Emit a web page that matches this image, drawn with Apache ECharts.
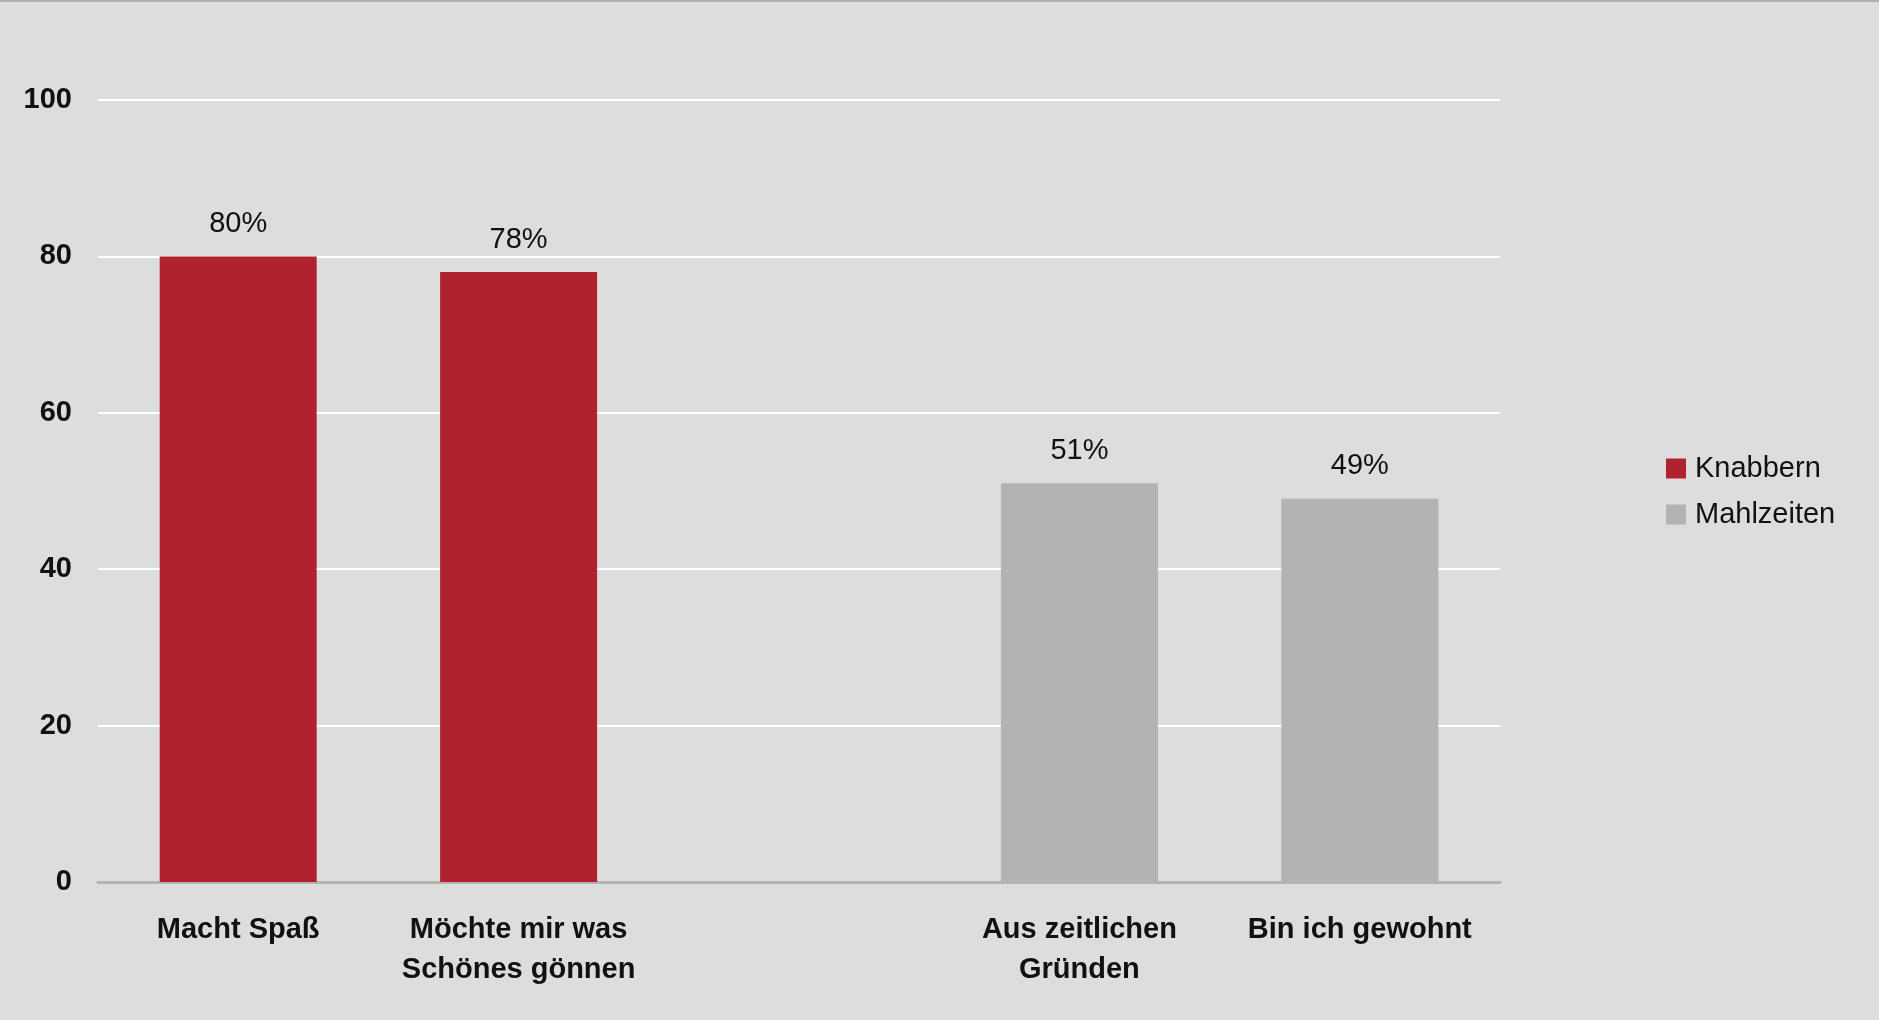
<!DOCTYPE html>
<html>
<head>
<meta charset="utf-8">
<script src="https://cdn.jsdelivr.net/npm/echarts@6/dist/echarts.min.js"></script>
<style>
  html, body { margin: 0; padding: 0; background: #dddddd; }
  #chart { width: 1879px; height: 1020px; }
</style>
</head>
<body>
<div id="chart"></div>
<script>
// Reasons, grouped: snacking on the left, meals on the right, an empty slot between
const categories = ['Macht Spaß', 'Möchte mir was\nSchönes gönnen', '', 'Aus zeitlichen\nGründen', 'Bin ich gewohnt'];
const knabbern = [80, 78, null, null, null];
const mahlzeiten = [null, null, null, 51, 49];
const yTicks = { min: 0, max: 100, interval: 20 };

const FONT = '"Liberation Sans", Arial, Helvetica, sans-serif';

const chart = echarts.init(document.getElementById('chart'), null, { renderer: 'canvas' });

const valueLabel = {
  show: true,
  position: 'top',
  distance: 18,
  formatter: '{c}%',
  color: '#111111',
  fontFamily: FONT,
  fontSize: 29
};

chart.setOption({
  backgroundColor: '#dddddd',
  animation: false,
  graphic: [{
    type: 'rect',
    shape: { x: 0, y: 0, width: 1879, height: 2 },
    style: { fill: '#b0b0b0' },
    silent: true
  }],
  grid: { left: 98, right: 379, top: 100, bottom: 138, containLabel: false },
  legend: {
    orient: 'vertical',
    left: 1666,
    top: 454,
    padding: 0,
    itemWidth: 20,
    itemHeight: 20,
    itemGap: 17,
    icon: 'rect',
    textStyle: { fontFamily: FONT, fontSize: 29, color: '#111111', padding: [0, 0, 0, 4] },
    data: ['Knabbern', 'Mahlzeiten']
  },
  xAxis: {
    type: 'category',
    data: categories,
    axisLine: { show: true, lineStyle: { color: '#b3b3b3', width: 3 } },
    axisTick: { show: false },
    axisLabel: {
      interval: 0,
      margin: 28,
      color: '#111111',
      fontFamily: FONT,
      fontWeight: 'bold',
      fontSize: 29,
      lineHeight: 40
    }
  },
  yAxis: {
    type: 'value',
    min: yTicks.min,
    max: yTicks.max,
    interval: yTicks.interval,
    axisLine: { show: false },
    axisTick: { show: false },
    splitLine: { show: true, lineStyle: { color: '#ffffff', width: 2 } },
    axisLabel: {
      margin: 26,
      color: '#111111',
      fontFamily: FONT,
      fontWeight: 'bold',
      fontSize: 29
    }
  },
  series: [
    {
      name: 'Knabbern',
      type: 'bar',
      stack: 'reason',
      barWidth: 157,
      data: knabbern,
      itemStyle: { color: '#b0232e' },
      label: valueLabel
    },
    {
      name: 'Mahlzeiten',
      type: 'bar',
      stack: 'reason',
      barWidth: 157,
      data: mahlzeiten,
      itemStyle: { color: '#b3b3b3' },
      label: valueLabel
    }
  ]
});
</script>
</body>
</html>
